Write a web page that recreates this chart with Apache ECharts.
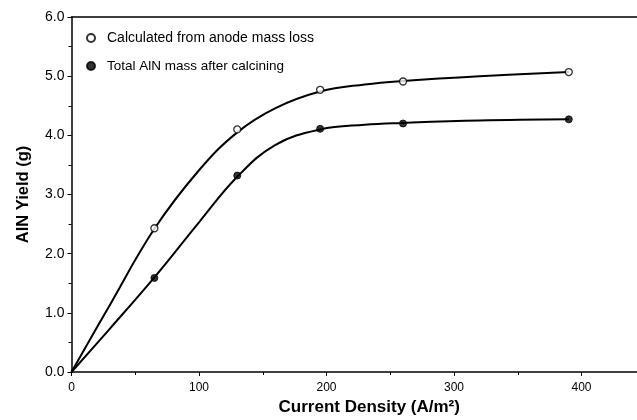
<!DOCTYPE html>
<html>
<head>
<meta charset="utf-8">
<script src="https://cdn.jsdelivr.net/npm/echarts@6/dist/echarts.min.js"></script>
<style>html,body{margin:0;padding:0;background:#fff;}#c{width:637px;height:420px;}</style>
</head>
<body>
<div id="c"></div>
<script>
// measured points
var currentDensity = [65, 130, 195, 260, 390];
var calculatedYield = [2.43, 4.10, 4.77, 4.91, 5.07];
var totalYield = [1.59, 3.32, 4.11, 4.20, 4.27];
var seriesNames = ['Calculated from anode mass loss', 'Total AlN mass after calcining'];
// fitted curves
var fitX = [0, 30, 65, 100, 130, 160, 195, 230, 260, 320, 390];
var fitCalculated = [0, 1.13, 2.42, 3.41, 4.05, 4.46, 4.74, 4.86, 4.92, 5.00, 5.07];
var fitTotal = [0, 0.73, 1.60, 2.53, 3.30, 3.84, 4.10, 4.18, 4.21, 4.25, 4.27];
var xTicks = [0, 100, 200, 300, 400];

function pairs(xs, ys) {
  var out = [];
  for (var i = 0; i < xs.length; i++) out.push([xs[i], ys[i]]);
  return out;
}

var chart = echarts.init(document.getElementById('c'), null, {renderer: 'canvas'});
var font = 'Liberation Sans, Arial, Helvetica, sans-serif';
var axisMax = 443.5;
chart.setOption({
  animation: false,
  backgroundColor: '#fff',
  textStyle: {fontFamily: font, color: '#000'},
  grid: {left: 71.5, top: 17, right: 0, height: 355, show: false, containLabel: false, outerBoundsMode: 'none'},
  legend: {
    data: seriesNames,
    orient: 'vertical',
    left: 81, top: 26,
    itemWidth: 8, itemHeight: 8, itemGap: 14,
    formatter: function (n) { return n === seriesNames[0] ? '{a|' + n + '}' : '{b|' + n + '}'; },
    textStyle: {color: '#000', fontFamily: font, padding: [0, 0, 0, 7],
      rich: {a: {fontSize: 14, fontFamily: font, color: '#000'}, b: {fontSize: 13.5, fontFamily: font, color: '#000'}}}
  },
  xAxis: [{
    type: 'value', min: 0, max: axisMax, interval: 100,
    name: 'Current Density (A/m²)', nameLocation: 'middle', nameGap: 26,
    nameTextStyle: {fontSize: 17, fontWeight: 'bold', color: '#000', padding: [0, 0, 0, 30]},
    axisLine: {show: true, lineStyle: {color: '#000', width: 1.5}},
    axisTick: {show: true, length: 4, lineStyle: {color: '#000'}},
    minorTick: {show: true, splitNumber: 2, length: 3, lineStyle: {color: '#000'}},
    axisLabel: {fontSize: 12, color: '#000', margin: 10, showMaxLabel: false,
      formatter: function (v) { return xTicks.indexOf(v) >= 0 ? String(v) : ''; }},
    splitLine: {show: false}
  }, {
    type: 'value', position: 'top', min: 0, max: axisMax,
    axisLine: {show: true, onZero: false, lineStyle: {color: '#000', width: 1.5}},
    axisTick: {show: false}, axisLabel: {show: false}, splitLine: {show: false}
  }],
  yAxis: {
    type: 'value', min: 0, max: 6, interval: 1,
    name: 'AlN Yield (g)', nameLocation: 'middle', nameGap: 40,
    nameTextStyle: {fontSize: 16.5, fontWeight: 'bold', color: '#000'},
    axisLine: {show: true, lineStyle: {color: '#000', width: 1.5}},
    axisTick: {show: true, length: 4, lineStyle: {color: '#000'}},
    minorTick: {show: true, splitNumber: 2, length: 3, lineStyle: {color: '#000'}},
    axisLabel: {fontSize: 14, color: '#000', margin: 7, formatter: function (v) { return v.toFixed(1); }},
    splitLine: {show: false}
  },
  series: [
    {
      type: 'line', name: 'fit1', data: pairs(fitX, fitCalculated),
      smooth: 0.4, showSymbol: false, symbol: 'none',
      lineStyle: {color: '#000', width: 2}, z: 2, silent: true
    },
    {
      type: 'line', name: 'fit2', data: pairs(fitX, fitTotal),
      smooth: 0.4, showSymbol: false, symbol: 'none',
      lineStyle: {color: '#000', width: 2}, z: 2, silent: true
    },
    {
      type: 'scatter', name: seriesNames[0], data: pairs(currentDensity, calculatedYield),
      symbol: 'circle', symbolSize: 7,
      itemStyle: {color: '#fff', borderColor: '#000', borderWidth: 1.3}, z: 3
    },
    {
      type: 'scatter', name: seriesNames[1], data: pairs(currentDensity, totalYield),
      symbol: 'circle', symbolSize: 7,
      itemStyle: {color: '#000', borderColor: '#000', borderWidth: 1}, z: 3
    }
  ]
});
</script>
</body>
</html>
